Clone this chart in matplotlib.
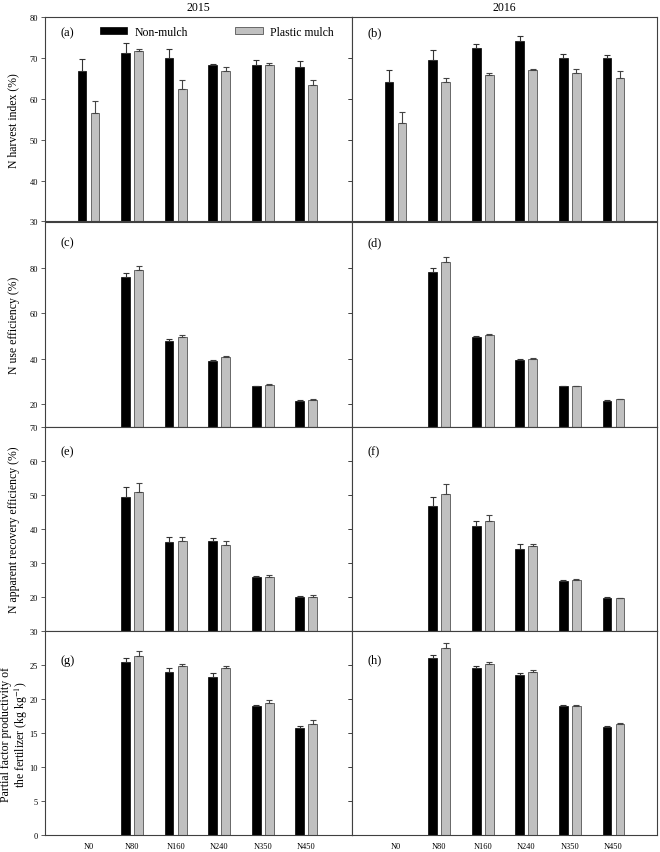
import numpy as np
import matplotlib
matplotlib.use("Agg")
import matplotlib.pyplot as plt

plt.rcParams['font.family'] = ['Liberation Serif', 'DejaVu Serif']
plt.rcParams['mathtext.fontset'] = 'stix'

# N rates on the x axis
rates = ['N0', 'N80', 'N160', 'N240', 'N350', 'N450']
years = ['2015', '2016']
nan = np.nan

# N harvest index (%)
nhi_nm_2015 = [66.7, 71.2, 70.0, 68.3, 68.3, 67.7]
nhi_nm_2015_se = [3.0, 2.4, 2.2, 0.2, 1.2, 1.5]
nhi_pm_2015 = [56.5, 71.6, 62.5, 66.9, 68.2, 63.4]
nhi_pm_2015_se = [2.9, 0.6, 2.0, 0.8, 0.5, 1.1]
nhi_nm_2016 = [64.0, 69.6, 72.4, 74.1, 69.9, 70.0]
nhi_nm_2016_se = [3.0, 2.4, 1.1, 1.2, 1.1, 0.8]
nhi_pm_2016 = [54.0, 64.2, 65.9, 67.0, 66.3, 65.2]
nhi_pm_2016_se = [2.8, 0.8, 0.3, 0.4, 1.1, 1.5]

# N use efficiency (%)
nue_nm_2015 = [nan, 76.0, 47.9, 38.8, 27.8, 21.2]
nue_nm_2015_se = [nan, 1.8, 0.8, 0.5, 0.2, 0.4]
nue_pm_2015 = [nan, 79.0, 49.6, 40.9, 28.2, 21.9]
nue_pm_2015_se = [nan, 1.7, 0.8, 0.3, 0.5, 0.5]
nue_nm_2016 = [nan, 78.2, 49.3, 39.3, 27.8, 21.5]
nue_nm_2016_se = [nan, 1.6, 0.6, 0.4, 0.2, 0.2]
nue_pm_2016 = [nan, 82.5, 50.4, 39.9, 27.8, 22.1]
nue_pm_2016_se = [nan, 2.4, 0.4, 0.4, 0.2, 0.2]

# N apparent recovery efficiency (%)
are_nm_2015 = [nan, 49.2, 36.2, 36.4, 25.8, 20.1]
are_nm_2015_se = [nan, 3.0, 1.5, 0.8, 0.4, 0.2]
are_pm_2015 = [nan, 50.7, 36.4, 35.2, 25.8, 20.1]
are_pm_2015_se = [nan, 2.7, 1.3, 1.2, 0.6, 0.6]
are_nm_2016 = [nan, 46.8, 40.7, 34.0, 24.6, 19.6]
are_nm_2016_se = [nan, 2.4, 1.6, 1.4, 0.5, 0.5]
are_pm_2016 = [nan, 50.2, 42.4, 35.0, 24.9, 19.6]
are_pm_2016_se = [nan, 3.0, 1.6, 0.6, 0.5, 0.2]

# Partial factor productivity of the fertilizer (kg kg-1)
pfp_nm_2015 = [nan, 25.4, 24.0, 23.3, 19.0, 15.8]
pfp_nm_2015_se = [nan, 0.6, 0.5, 0.6, 0.2, 0.3]
pfp_pm_2015 = [nan, 26.3, 24.8, 24.5, 19.5, 16.3]
pfp_pm_2015_se = [nan, 0.7, 0.4, 0.3, 0.3, 0.6]
pfp_nm_2016 = [nan, 26.1, 24.6, 23.6, 19.0, 15.9]
pfp_nm_2016_se = [nan, 0.4, 0.3, 0.2, 0.15, 0.1]
pfp_pm_2016 = [nan, 27.5, 25.1, 24.0, 19.0, 16.3]
pfp_pm_2016_se = [nan, 0.7, 0.4, 0.3, 0.2, 0.2]

rows = [
    ("N harvest index (%)", (30, 80), [30, 40, 50, 60, 70, 80],
     [(nhi_nm_2015, nhi_nm_2015_se, nhi_pm_2015, nhi_pm_2015_se),
      (nhi_nm_2016, nhi_nm_2016_se, nhi_pm_2016, nhi_pm_2016_se)]),
    ("N use efficiency (%)", (10, 100), [20, 40, 60, 80],
     [(nue_nm_2015, nue_nm_2015_se, nue_pm_2015, nue_pm_2015_se),
      (nue_nm_2016, nue_nm_2016_se, nue_pm_2016, nue_pm_2016_se)]),
    ("N apparent recovery efficiency (%)", (10, 70), [20, 30, 40, 50, 60, 70],
     [(are_nm_2015, are_nm_2015_se, are_pm_2015, are_pm_2015_se),
      (are_nm_2016, are_nm_2016_se, are_pm_2016, are_pm_2016_se)]),
    ("Partial factor productivity of\nthe fertilizer (kg kg$^{-1}$)", (0, 30), [0, 5, 10, 15, 20, 25, 30],
     [(pfp_nm_2015, pfp_nm_2015_se, pfp_pm_2015, pfp_pm_2015_se),
      (pfp_nm_2016, pfp_nm_2016_se, pfp_pm_2016, pfp_pm_2016_se)]),
]
panel_labels = [['(a)', '(b)'], ['(c)', '(d)'], ['(e)', '(f)'], ['(g)', '(h)']]

W, H = 660, 853
fig = plt.figure(figsize=(6.6, 8.53), dpi=100)

left_x = [45, 352]
widths = [307, 305]
tops = [18, 223.3, 427.6, 632]
row_h = 204.4
edge = '#404040'
x = np.arange(len(rates))
bw = 0.2

for r, (ylab, ylim, yticks, data) in enumerate(rows):
    for c in range(2):
        ax = fig.add_axes([left_x[c] / W, 1 - (tops[r] + row_h) / H, widths[c] / W, row_h / H])
        nm, nm_se, pm, pm_se = [np.array(v, dtype=float) for v in data[c]]
        ax.bar(x - 0.15, nm, bw, color='black', edgecolor='black', linewidth=0.5,
               yerr=[np.zeros_like(nm_se), nm_se], error_kw=dict(ecolor='#333333', elinewidth=0.8, capsize=2.5, capthick=0.8),
               label='Non-mulch', zorder=2)
        ax.bar(x + 0.15, pm, bw, color='#c0c0c0', edgecolor='#555555', linewidth=0.6,
               yerr=[np.zeros_like(pm_se), pm_se], error_kw=dict(ecolor='#444444', elinewidth=0.8, capsize=2.5, capthick=0.8),
               label='Plastic mulch', zorder=2)
        ax.set_xlim(-1, 6.05 if c == 0 else 6.0)
        ax.set_ylim(*ylim)
        ax.set_yticks(yticks)
        for s in ax.spines.values():
            s.set_color(edge)
            s.set_linewidth(0.8)
        ax.tick_params(axis='y', direction='out', length=3, width=0.6, color=edge, labelsize=6, pad=2)
        ax.tick_params(axis='x', length=0, labelsize=6, pad=5)
        if r == 3:
            ax.set_xticks(x)
            ax.set_xticklabels(rates)
        else:
            ax.set_xticks([])
        if c == 0:
            ax.set_ylabel(ylab, fontsize=8.5, linespacing=1.05)
            ax.yaxis.set_label_coords(-0.05 if r == 3 else -0.083, 0.5)
            sec = ax.secondary_yaxis('right')
            sec.set_yticks(yticks)
            sec.tick_params(direction='in', length=3, width=0.6, color=edge, labelright=False)
            sec.spines['right'].set_visible(False)
        else:
            ax.tick_params(axis='y', labelleft=False)
        lab_y = [0.927, 0.9, 0.88, 0.86][r]
        ax.text(0.05, lab_y, panel_labels[r][c], transform=ax.transAxes,
                fontsize=9, va='center', ha='left')
        if r == 0:
            ax.set_title(years[c], fontsize=8.5, pad=5)
            if c == 0:
                ax.legend(loc='center left', bbox_to_anchor=(0.178, 0.927), ncol=2, frameon=False,
                          fontsize=8.5, handlelength=2.35, handleheight=0.55, handletextpad=0.6,
                          columnspacing=4.0, borderpad=0, borderaxespad=0)

fig.savefig('out.png', dpi=100)
